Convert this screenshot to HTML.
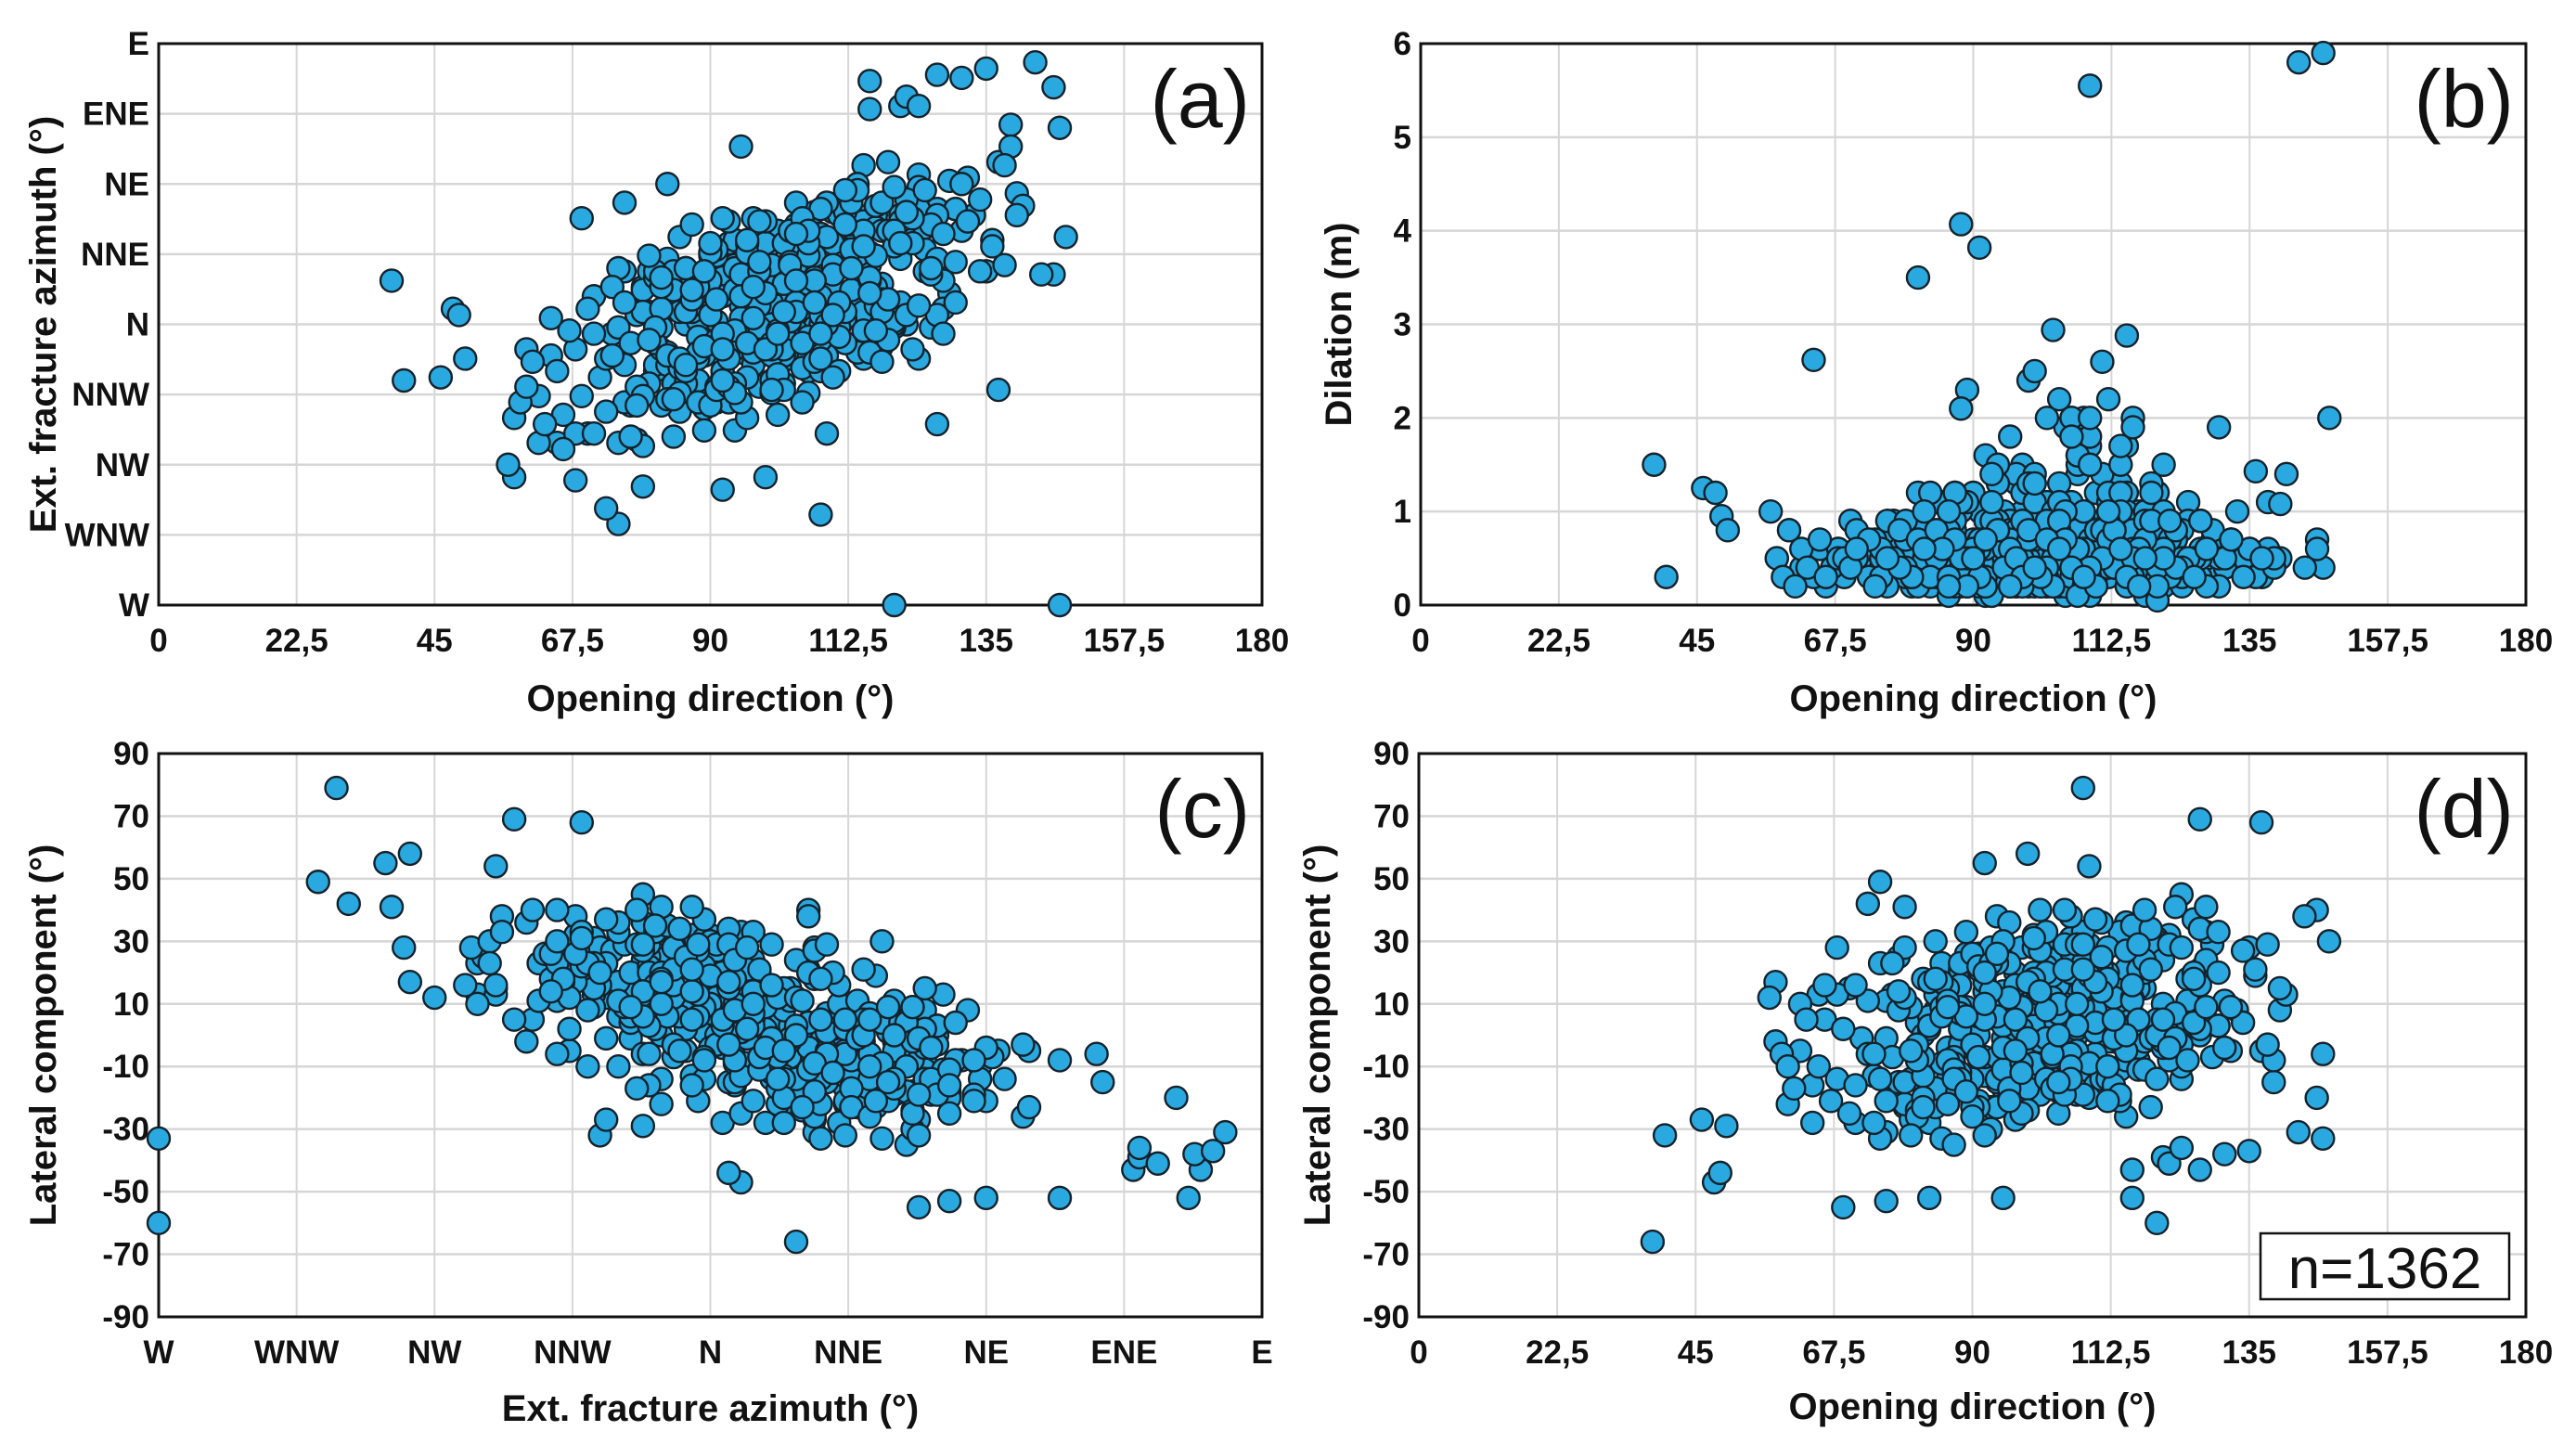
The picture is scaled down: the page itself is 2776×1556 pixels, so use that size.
<!DOCTYPE html>
<html><head><meta charset="utf-8"><title>Fracture scatter plots</title>
<style>
html,body{margin:0;padding:0;background:#fff;}
svg{display:block;font-family:"Liberation Sans",Arial,sans-serif;}
.tk{font-size:35px;font-weight:bold;fill:#111;}
.ttl{font-size:40px;font-weight:bold;fill:#111;}
.pl{font-size:88px;fill:#111;}
</style></head>
<body>
<svg id="chart" width="2776" height="1556" viewBox="0 0 2776 1556" xmlns="http://www.w3.org/2000/svg"></svg>
<script>
const opening = [
88,92,95,97,99,101,103,105,107,109,90,94,98,102,106,110,86,100,104,96,
84,89,93,97,101,105,111,113,115,117,91,95,99,103,107,85,87,108,112,100,
80,82,86,90,94,98,102,106,110,114,118,120,122,78,76,124,92,96,104,108,
72,74,77,79,81,83,85,88,91,93,96,99,102,105,108,111,114,116,119,121,
123,125,127,129,131,70,68,66,64,62,60,58,133,135,137,89,93,97,101,105,
87,90,94,98,102,106,110,113,116,119,84,81,78,75,95,100,103,107,111,115,
92,96,100,104,108,112,88,86,83,80,118,121,124,127,130,98,101,105,109,99,
91,95,99,103,107,111,115,89,85,82,79,76,73,117,120,123,126,94,97,102,
93,97,101,105,109,113,117,87,84,81,78,75,71,69,67,65,125,128,132,136,
90,94,98,102,106,110,114,118,122,88,86,92,96,100,104,108,112,116,120,124,
95,99,103,107,111,91,87,83,79,115,119,126,129,134,100,104,108,97,93,89,
96,100,104,108,112,116,92,88,84,80,77,120,123,127,131,138,140,101,105,109,
94,98,102,106,110,114,90,86,82,118,122,126,74,71,68,99,103,107,111,95,
97,101,105,109,113,117,93,89,85,81,121,125,128,132,96,100,104,108,112,116,
92,96,100,104,108,112,88,84,119,123,127,130,98,102,106,110,114,90,94,118,
38,40,46,48,49,50,120,147,116,127,131,135,143,146,147,139,139,138,116,121,122,124,148,146,144,137,127,109,108,75,73,68,79,99,92,76,69,95,83,134,141,
88,91,81,64,103,115,130,140,136,58,59,60,61,62,57,63,65,66,
70,73,76,79,82,85,88,91,94,97,100,103,106,109,112,115,118,121,124,127,
71,75,78,81,84,87,90,93,96,99,102,105,108,111,114,117,120,123,126,130,
74,77,80,83,86,89,92,95,98,101,104,107,110,113,116,119,122,125,128,132,
86,88,90,92,94,96,98,100,102,104,106,108,110,112,114,116,118,120,85,87,
89,91,93,95,97,99,101,103,105,107,109,111,113,115,117,119,121,83,81,79,
80,84,88,92,96,100,104,108,112,116,120,124,128,82,86,90,94,98,102,106,
87,91,95,99,103,107,111,115,119,123,85,89,93,97,101,105,109,113,117,121,
78,82,86,90,94,98,102,106,110,114,118,122,126,92,96,100,104,108,112,76
];
const azimuth = [
2,-12,22,1,19,-16,16,2,36,-3,-1,19,-6,18,-15,16,-22,28,3,12,
-14,13,-19,10,30,5,-1,25,-11,35,1,-9,24,2,24,-28,4,-5,35,5,
4,-26,0,22,-8,20,-19,11,0,35,13,29,0,4,-13,48,-17,9,-2,29,
-17,-3,-26,12,-15,21,-17,1,-25,14,2,22,-2,33,-7,21,11,32,-3,31,
41,17,37,10,30,-35,-8,-29,2,-23,-8,-49,35,17,52,-10,26,0,16,-10,
4,-24,17,3,18,-4,36,6,19,1,15,-13,3,-38,6,-4,26,8,39,4,
-15,11,4,27,0,20,-23,10,-13,17,1,21,44,16,37,-20,9,25,-1,10,
22,-2,16,-11,17,1,33,-27,4,-8,11,-25,-11,31,-1,29,16,27,-13,7,
-9,25,3,24,-10,23,12,15,-19,-4,-37,-1,9,-23,-2,-38,24,14,47,27,
13,-8,29,-10,13,12,-6,30,28,-18,18,-5,13,-18,25,9,2,23,0,37,
-4,23,-6,15,35,-20,6,-9,4,-7,30,16,46,17,7,32,-5,11,-25,13,
5,-10,28,4,24,-7,15,-4,17,-19,-6,1,34,21,45,19,42,-16,23,3,
18,-1,16,-11,26,13,23,-19,-1,8,40,-1,-10,-3,-35,26,1,22,-1,2,
-9,13,-14,28,11,38,-8,12,-22,-6,7,31,5,33,26,0,19,-15,32,14,
9,-17,19,7,-5,36,-11,11,8,26,3,37,-1,26,-4,19,-9,14,-2,39,
14,-18,-17,5,3,-11,-90,-90,78,80,79,82,84,76,63,64,57,51,69,70,73,70,28,16,16,-21,-32,-35,-61,-64,-59,-50,-52,-49,-53,39,34,57,45,40,38,
10,-5,15,-10,20,30,20,35,25,-30,-25,-20,-12,-38,-45,-32,-15,-40,
5,-28,17,-39,5,28,-25,24,-34,34,-22,30,-22,39,-6,51,-7,35,-11,35,
-35,18,-20,17,-36,32,-26,33,-30,33,-8,-25,37,-15,45,6,44,-8,32,7,
12,-36,22,-24,18,-34,34,-25,33,-29,39,-12,-17,39,-9,52,3,43,-3,33,
4,-9,3,-3,11,-6,6,-6,13,4,22,3,16,4,22,15,4,25,-14,8,
-7,8,-11,16,2,10,-2,19,-6,14,28,7,24,-2,22,8,33,-10,-1,-23,
-5,-24,12,-8,23,-8,14,-11,32,10,30,6,29,12,-15,23,-19,17,4,26,
11,-21,9,-8,30,7,-4,25,-5,34,-11,17,-20,12,-3,34,0,18,-2,26,
-26,15,-13,26,-22,20,-21,30,3,43,-12,36,18,-18,27,-21,29,-3,43,7
];
const dilation = [
.3,.6,.9,.2,1.1,.5,.4,.8,1.4,.1,.7,.3,1.0,.6,.2,1.2,.5,.9,.4,.7,
.5,.2,.8,1.3,.4,.1,.9,.6,1.7,.3,1.0,.5,.2,.8,1.5,.4,.7,.3,1.1,.6,
.2,.7,1.0,.4,.6,1.5,.3,2.0,.5,.9,.1,1.2,.6,.8,.4,.3,1.6,.5,2.2,.7,
.6,.4,.9,.3,1.2,.2,.5,1.0,.7,.1,1.8,.4,.6,.9,2.0,.3,1.3,.5,.8,.2,
.4,1.1,.3,.7,.5,.9,.6,.2,.3,.4,.8,.5,1.0,.6,.3,2.3,.5,1.4,.2,1.9,
.8,.3,1.5,.6,.2,1.1,.4,.7,2.0,.5,.3,.9,.6,.4,1.0,.2,.7,1.6,.5,1.2,
.1,.9,.5,1.3,.7,.4,2.1,.6,.3,.8,1.0,.5,.2,.6,.4,1.2,.8,.3,1.7,.5,
.7,.5,2.4,.2,.9,1.4,.6,.3,1.1,.4,.5,.7,.6,1.0,.3,.8,.5,1.3,.4,2.0,
.4,.2,1.0,.6,1.8,.5,.3,.9,.7,.4,.6,.5,.8,.3,.4,.6,.9,.5,.7,.3,
1.2,.6,.3,.8,2.0,.4,1.5,.5,.7,.2,1.1,.9,.4,2.5,.6,1.0,.3,1.9,.5,.8,
.5,.8,.2,1.6,.4,.7,1.2,.3,.5,1.0,.6,.4,.8,.5,1.3,.2,.9,.6,.4,1.1,
.3,1.4,.7,.5,2.2,.9,.4,.6,.8,.3,.5,1.2,.7,.9,.4,.6,.5,1.0,.2,1.5,
.9,.4,1.1,.6,.3,1.7,.5,.8,.4,1.0,.6,.3,.7,.5,.6,1.3,.2,.8,2.6,.5,
.6,1.0,.4,2.0,.7,.5,1.4,.3,.6,.9,1.5,.4,.6,.7,.2,1.1,.8,.5,1.2,.4,
.2,.8,1.3,.5,1.0,.4,.6,1.1,.3,.7,.9,.5,.4,.2,1.8,.6,1.2,.3,.8,1.0,
1.5,.3,1.25,1.2,.95,.8,.05,.4,.6,.9,.5,.6,5.8,.7,5.9,.4,.5,1.1,.8,1.0,.7,.5,2.0,.6,.4,.5,.3,5.55,.4,.6,.3,.5,.7,.4,.6,.9,.5,.7,1.2,.3,1.4,
4.07,3.82,3.5,2.62,2.94,2.88,1.9,1.08,1.43,.5,.3,.8,.2,.6,1.0,.4,.7,.3,
.4,.7,.2,.9,.5,.3,1.1,.6,.2,.8,.4,1.0,.3,.7,.5,.2,.9,.6,.3,.5,
.6,.3,.8,.2,.5,1.2,.4,.1,.7,.3,.9,.5,.2,.6,1.0,.4,.3,.8,.5,.2,
.2,.5,.3,.7,1.0,.4,.2,.6,.9,.3,.5,.1,.8,.4,.6,1.3,.3,.5,.2,.7,
.1,.4,.6,.3,.8,.2,.5,.7,.3,1.1,.4,.6,.2,.9,.5,.3,.7,.4,.6,.2,
.5,.2,.9,.4,.3,.7,.2,.5,1.0,.6,.3,.8,.4,.2,.6,1.2,.5,.3,.7,.4,
.3,.8,.5,.2,.6,.4,.9,.3,.7,.5,.2,.4,.6,1.0,.3,.5,.8,.2,.4,.6,
.7,.3,.4,.8,.2,.6,.5,.3,.9,.4,.6,.2,1.1,.5,.3,.7,.4,.8,.2,.5,
.4,.6,.2,.5,.8,.3,.7,.4,.2,.6,.5,.9,.3,.7,.2,.4,.6,.3,1.0,.5
];
const dirTicks = [-90,-67.5,-45,-22.5,0,22.5,45,67.5,90];
const dirLabels = ["W","WNW","NW","NNW","N","NNE","NE","ENE","E"];
const openTicks = [0,22.5,45,67.5,90,112.5,135,157.5,180];
const openLabels = ["0","22,5","45","67,5","90","112,5","135","157,5","180"];
const dilTicks = [0,1,2,3,4,5,6];
const dilLabels = ["0","1","2","3","4","5","6"];
const latTicks = [-90,-70,-50,-30,-10,10,30,50,70,90];
const latLabels = ["-90","-70","-50","-30","-10","10","30","50","70","90"];

function lateralOf(i){
  let l = opening[i] - 90 - azimuth[i];
  if (l > 90) l -= 180;
  if (l < -90) l += 180;
  return l;
}

const NS = "http://www.w3.org/2000/svg";
const svg = document.getElementById("chart");
function mk(tag, attrs, parent){
  const e = document.createElementNS(NS, tag);
  for (const k in attrs) e.setAttribute(k, attrs[k]);
  (parent || svg).appendChild(e);
  return e;
}

function panel(p){
  const g = mk("g", {});
  
  
  const sx = v => p.L + (v - p.xd[0]) / (p.xd[1] - p.xd[0]) * (p.R - p.L);
  const sy = v => p.B - (v - p.yd[0]) / (p.yd[1] - p.yd[0]) * (p.B - p.T);
  p.xt.forEach((t, i) => {
    const x = sx(t);
    const ln = mk("line", {x1:x, x2:x, y1:p.T, y2:p.B, stroke:"#d6d6d6", "stroke-width":2}, g);
    
    
    const tx = mk("text", {x:x, y:p.B + 50, "text-anchor":"middle", class:"tk"}, g);
    
    
    tx.textContent = p.xl[i];
  });
  p.yt.forEach((t, i) => {
    const y = sy(t);
    const ln = mk("line", {x1:p.L, x2:p.R, y1:y, y2:y, stroke:"#d6d6d6", "stroke-width":2.5}, g);
    
    
    const tx = mk("text", {x:p.L - 10, y:y + 12, "text-anchor":"end", class:"tk"}, g);
    
    
    tx.textContent = p.yl[i];
  });
  const fr = mk("rect", {x:p.L, y:p.T, width:p.R - p.L, height:p.B - p.T, fill:"none", stroke:"#111", "stroke-width":3}, g);
  
  
  const pg = mk("g", {}, g);
  
  
  for (let i = 0; i < opening.length; i++){
    const c = mk("circle", {cx:sx(p.fx(i)), cy:sy(p.fy(i)), r:12, fill:"#29a9df", stroke:"#15222b", "stroke-width":2.4}, pg);
    
    
  }
  const xt = mk("text", {x:(p.L + p.R) / 2, y:p.xtY, "text-anchor":"middle", class:"ttl"}, g);
  
  
  xt.textContent = p.xTitle;
  const cy = (p.T + p.B) / 2;
  const yt = mk("text", {x:p.ytX, y:cy, "text-anchor":"middle", class:"ttl", transform:"rotate(-90 " + p.ytX + " " + cy + ")"}, g);
  
  
  yt.textContent = p.yTitle;
  const pl = mk("text", {x:p.R - 13, y:p.T + 90, "text-anchor":"end", class:"pl"}, g);
  
  
  pl.textContent = p.label;
}

panel({name:"panel-a", L:171, T:47, R:1360, B:652, xd:[0,180], yd:[-90,90],
  xt:openTicks, xl:openLabels, yt:dirTicks, yl:dirLabels,
  fx:i => opening[i], fy:i => azimuth[i],
  xTitle:"Opening direction (°)", yTitle:"Ext. fracture azimuth (°)", xtY:766, ytX:60, label:"(a)"});
panel({name:"panel-b", L:1531, T:47, R:2722, B:652, xd:[0,180], yd:[0,6],
  xt:openTicks, xl:openLabels, yt:dilTicks, yl:dilLabels,
  fx:i => opening[i], fy:i => dilation[i],
  xTitle:"Opening direction (°)", yTitle:"Dilation (m)", xtY:766, ytX:1456, label:"(b)"});
panel({name:"panel-c", L:171, T:812, R:1360, B:1419, xd:[-90,90], yd:[-90,90],
  xt:dirTicks, xl:dirLabels, yt:latTicks, yl:latLabels,
  fx:i => azimuth[i], fy:i => lateralOf(i),
  xTitle:"Ext. fracture azimuth (°)", yTitle:"Lateral component (°)", xtY:1531, ytX:60, label:"(c)"});
panel({name:"panel-d", L:1529, T:812, R:2722, B:1419, xd:[0,180], yd:[-90,90],
  xt:openTicks, xl:openLabels, yt:latTicks, yl:latLabels,
  fx:i => opening[i], fy:i => lateralOf(i),
  xTitle:"Opening direction (°)", yTitle:"Lateral component (°)", xtY:1529, ytX:1433, label:"(d)"});

const nb = mk("rect", {x:2436, y:1329, width:268, height:71, fill:"#fff", stroke:"#111", "stroke-width":2.5});


const nt = mk("text", {x:2570, y:1388, "text-anchor":"middle", "font-size":62, fill:"#111"});


nt.textContent = "n=1362";
</script>
</body></html>
